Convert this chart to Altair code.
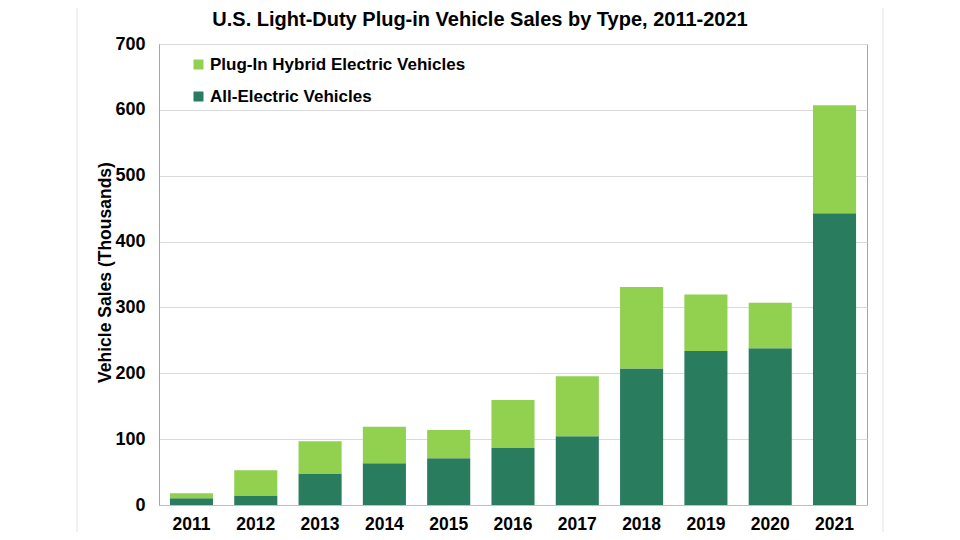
import altair as alt
import pandas as pd

years = ["2011", "2012", "2013", "2014", "2015", "2016", "2017", "2018", "2019", "2020", "2021"]
aev = [10.1, 14.3, 47.7, 63.5, 71.0, 86.7, 104.5, 207.1, 233.8, 238.0, 443.0]
phev = [7.7, 38.6, 49.0, 55.4, 43.0, 72.9, 91.0, 123.8, 86.0, 69.0, 164.0]
series = ["Plug-In Hybrid Electric Vehicles", "All-Electric Vehicles"]
colors = ["#92D050", "#297D5E"]

rows = []
for i, y in enumerate(years):
    rows.append({"year": y, "type": series[1], "value": aev[i], "ord": 0})
    rows.append({"year": y, "type": series[0], "value": phev[i], "ord": 1})
df = pd.DataFrame(rows)

FONT = "Liberation Sans"

bars = alt.Chart(df).mark_bar().encode(
    x=alt.X("year:N", sort=years, title=None,
            scale=alt.Scale(paddingInner=0.33, paddingOuter=0.17),
            axis=alt.Axis(labelAngle=0, labelFont=FONT, labelFontSize=17.5, labelFontWeight="bold",
                          labelColor="#000", labelPadding=10, ticks=False,
                          domainColor="#bfbfbf")),
    y=alt.Y("value:Q", stack="zero", title="Vehicle Sales (Thousands)",
            scale=alt.Scale(domain=[0, 700], nice=False),
            axis=alt.Axis(values=list(range(0, 701, 100)), labelFont=FONT, labelFontSize=18,
                          labelFontWeight="bold", labelColor="#000", labelPadding=14, ticks=False,
                          titleFont=FONT, titleFontSize=17.5, titleFontWeight="bold", titleColor="#000",
                          titlePadding=0, titleY=228, gridColor="#d9d9d9", domainColor="#a6a6a6")),
    color=alt.Color("type:N", scale=alt.Scale(domain=series, range=colors),
                    legend=alt.Legend(title=None, orient="none", legendX=31, legendY=12,
                                      symbolType="square", symbolSize=100, symbolStrokeWidth=0,
                                      labelFont=FONT, labelFontSize=17, labelFontWeight="bold",
                                      labelColor="#000", rowPadding=14, labelOffset=3,
                                      labelLimit=500)),
    order=alt.Order("ord:Q"),
)

frame = alt.Chart(pd.DataFrame({"side": [-82, 724]})).mark_rule(color="#e3e3e3", strokeWidth=1).encode(
    x=alt.X("side:Q", scale=alt.Scale(domain=[0, 708], range=[0, 708]), axis=None),
    y=alt.value(-44), y2=alt.value(500),
)

chart = alt.layer(frame, bars).resolve_scale(x="independent").properties(
    width=708, height=461,
    autosize=alt.AutoSizeParams(type="none"),
    padding={"left": 151, "top": 36, "right": 85, "bottom": 27},
    title=alt.Title("U.S. Light-Duty Plug-in Vehicle Sales by Type, 2011-2021",
                    font=FONT, fontSize=20, fontWeight="bold", color="#000",
                    anchor="middle", frame="group", dx=-33, dy=30, offset=0),
).configure_view(stroke="#a6a6a6", strokeWidth=1)

chart.save("out.html", embed_options={"renderer": "svg", "actions": False})
